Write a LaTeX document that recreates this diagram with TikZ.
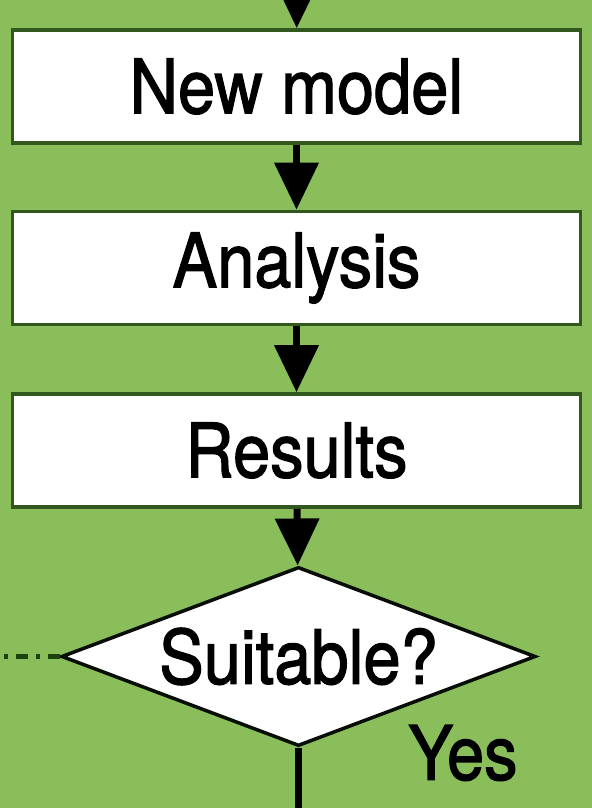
\documentclass[tikz,border=0pt]{standalone}
\usepackage{fontspec}
\usepackage{graphicx}
\setmainfont{TeX Gyre Heros}[FakeBold=1.8]
\usetikzlibrary{arrows.meta,shapes.geometric}
\definecolor{leaf}{RGB}{138,190,90}
\definecolor{rim}{RGB}{50,88,32}
\definecolor{dashgreen}{RGB}{28,66,14}
\newcommand{\tallText}[1]{\scalebox{1}[1.12]{#1}}

\begin{document}
\begin{tikzpicture}[x=0.01cm,y=0.01cm,
    stage/.style={draw=rim,line width=1pt,fill=white,minimum width=5.68cm,minimum height=1.13cm,inner sep=0pt,font=\fontsize{19}{22}\selectfont},
    query/.style={diamond,draw=black!85!rim,line width=1pt,fill=white,aspect=2.65,minimum width=4.74cm,minimum height=1.79cm,inner sep=0pt,font=\fontsize{19}{22}\selectfont},
    flow/.style={line width=2pt,-{Triangle[width=0.43cm,length=0.47cm]}}]
        \fill[leaf] (0,0) rectangle (592,808);
        \clip (0,0) rectangle (592,808);

        \coordinate (entry) at (297,860);
        \node[stage] (newmodel) at (296.5,721.5) {\tallText{New model}};
        \node[stage] (analysis) at (296.5,540) {\tallText{Analysis}};
        \node[stage] (results) at (296.5,357.5) {\tallText{Results}};
        \node[query] (suitable) at (298.5,151.5) {\tallText{Suitable?}};
        \coordinate (exit) at (298.5,-20);
        \coordinate (loop) at (-10,151.5);

        \foreach \from/\to in {entry/newmodel,newmodel/analysis,analysis/results,results/suitable}
        \draw[flow] (\from)--(\to);

        % leaving the test
        \draw[line width=2pt] (suitable)--(exit);
        \draw[dashgreen,line width=1.5pt,dash pattern=on 3.4pt off 2.3pt on 1.1pt off 2.3pt] (suitable)--(loop);
        \node[font=\fontsize{19}{22}\selectfont] (yes) at (463,55) {\tallText{Yes}};
\end{tikzpicture}
\end{document}
